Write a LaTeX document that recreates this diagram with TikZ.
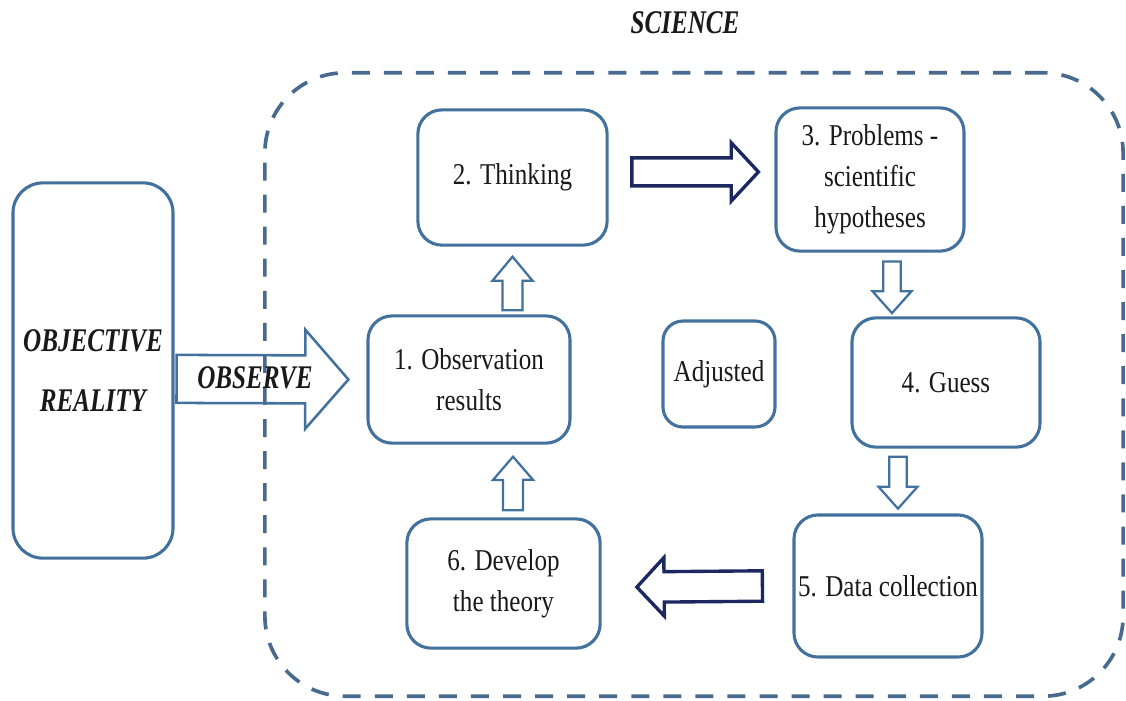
\documentclass[tikz,border=0pt]{standalone}
\usepackage{fontspec}
\setmainfont{Liberation Serif}[FakeStretch=0.83]
\newfontfamily\bifont{Liberation Serif}[FakeStretch=0.76]
\usepackage{tikz}
\usetikzlibrary{positioning,calc}
\definecolor{boxblue}{RGB}{65,113,156}
\definecolor{dashblue}{RGB}{72,106,142}
\definecolor{navyblue}{RGB}{28,40,95}
\tikzset{
  stepbox/.style   = {draw=boxblue, line width=2.2pt, rounded corners=0.6cm, align=center,
                      fill=white, inner sep=0pt, text=black!90,
                      font=\fontsize{21.5}{29}\selectfont},
  bitext/.style    = {align=center, text=black!90, inner sep=0pt,
                      font=\bifont\bfseries\itshape\fontsize{23.5}{42.7}\selectfont},
  container/.style = {draw=dashblue, line width=2.6pt, rounded corners=2cm,
                      dash pattern=on 12.8pt off 10pt, minimum width=21.45cm, minimum height=15.58cm},
  thinarrow/.style = {draw=boxblue, line width=1.6pt, fill=white},
  bigarrow/.style  = {draw=navyblue, line width=2.4pt, fill=white},
  obsarrow/.style  = {draw=boxblue, line width=1.8pt},
  % hollow block arrow: half shaft, half head, head length
  hollow/.style n args={3}{to path={
    ($(\tikztotarget)!#3!(\tikztostart)$) coordinate (bah)
    ($(\tikztostart)!#1!90:(\tikztotarget)$)
    -- ($(bah)!#1!90:(\tikztotarget)$)
    -- ($(bah)!#2!90:(\tikztotarget)$)
    -- (\tikztotarget)
    -- ($(bah)!#2!-90:(\tikztotarget)$)
    -- ($(bah)!#1!-90:(\tikztotarget)$)
    -- ($(\tikztostart)!#1!-90:(\tikztotarget)$)
    -- cycle}},
}
\begin{document}
\begin{tikzpicture}[x=0.025cm, y=-0.025cm]
  \useasboundingbox (0,0) rectangle (1126,700);
  \node[container] (sci) at (694,384.5) {};
  \node[bitext] (scilabel) at (685,23) {SCIENCE};

  \node[stepbox, rounded corners=0.75cm, minimum width=4cm, minimum height=9.38cm] (reality) at (93,370.5) {};
  \node[bitext] (realitytext) at (reality.center) {OBJECTIVE\\REALITY};

  \node[stepbox, minimum width=5.05cm, minimum height=3.18cm] (obs) at (469,379.5) {1. Observation\\results};
  \node[stepbox, minimum width=4.73cm, minimum height=3.38cm] (think) at (512.5,177.5) {2. Thinking};
  \node[stepbox, minimum width=4.7cm, minimum height=3.58cm] (prob) at (870,179.5) {3. Problems -\\scientific\\hypotheses};
  \node[stepbox, minimum width=4.7cm, minimum height=3.23cm] (guess) at (946,382.5) {4. Guess};
  \node[stepbox, minimum width=4.7cm, minimum height=3.55cm] (data) at (888,586) {5. Data collection};
  \node[stepbox, minimum width=4.83cm, minimum height=3.23cm] (dev) at (503.5,583.5) {6. Develop\\the theory};
  \node[stepbox, rounded corners=0.5cm, minimum width=2.8cm, minimum height=2.65cm] (adj) at (719,374) {Adjusted};

  % block arrows
  \draw[obsarrow, hollow={0.6cm}{1.24cm}{1.08cm}] ([xshift=0.05cm,yshift=-0.21cm]reality.east) to ([xshift=-0.45cm]obs.west);
  \node[bitext] (observe) at (255,378) {OBSERVE};
  \draw[thinarrow, hollow={0.25cm}{0.5cm}{0.6cm}] ([yshift=0.1cm]think.south |- obs.north) to ([yshift=-0.25cm]think.south);
  \draw[thinarrow, hollow={0.25cm}{0.5cm}{0.58cm}] ([xshift=0.24cm,yshift=0.18cm]dev.north) to ([xshift=1.1cm,yshift=-0.3cm]obs.south);
  \draw[thinarrow, hollow={0.22cm}{0.49cm}{0.55cm}] ([xshift=0.55cm,yshift=-0.22cm]prob.south) to ([xshift=-1.35cm,yshift=0.08cm]guess.north);
  \draw[thinarrow, hollow={0.22cm}{0.49cm}{0.55cm}] ([xshift=-1.2cm,yshift=-0.2cm]guess.south) to ([xshift=0.25cm,yshift=0.12cm]data.north);
  \draw[bigarrow, hollow={0.35cm}{0.73cm}{0.68cm}] ([xshift=0.58cm,yshift=0.14cm]think.east) to ([xshift=-0.4cm,yshift=0.19cm]prob.west);
  \draw[bigarrow, hollow={0.38cm}{0.73cm}{0.68cm}] ([xshift=-0.75cm]data.west) to ([xshift=0.88cm,yshift=-0.09cm]dev.east);
\end{tikzpicture}
\end{document}
